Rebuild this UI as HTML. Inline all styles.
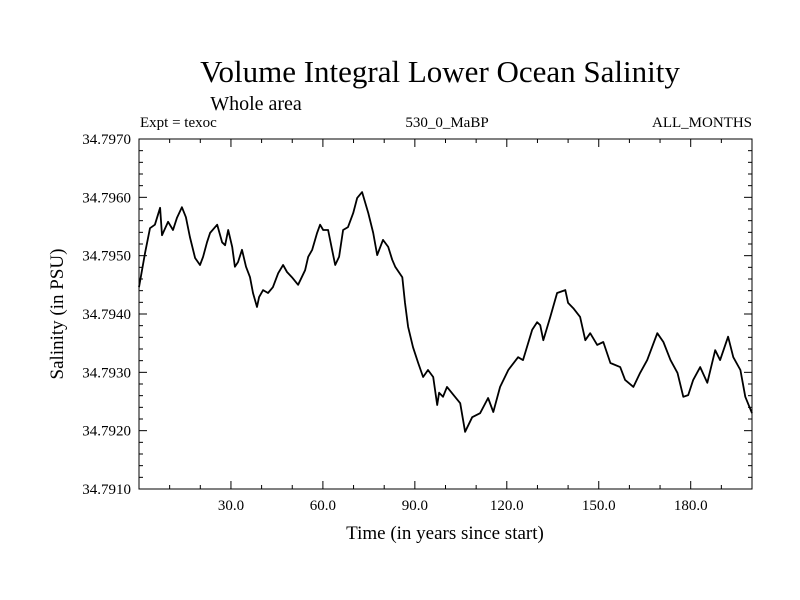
<!DOCTYPE html>
<html><head><meta charset="utf-8"><style>
html,body{margin:0;padding:0;background:#fff;}
svg{display:block;font-family:"Liberation Serif",serif;}
</style></head><body>
<svg id="chart" width="800" height="600" viewBox="0 0 800 600">
<text x="440" y="82" font-size="31" text-anchor="middle">Volume Integral Lower Ocean Salinity</text>
<text x="256" y="110" font-size="20" text-anchor="middle">Whole area</text>
<text x="140" y="127" font-size="15">Expt = texoc</text>
<text x="447" y="127" font-size="15" text-anchor="middle">530_0_MaBP</text>
<text x="752" y="127" font-size="15" text-anchor="end">ALL_MONTHS</text>
<text x="445" y="539" font-size="19" text-anchor="middle">Time (in years since start)</text>
<text x="0" y="0" font-size="19" text-anchor="middle" transform="translate(63,314) rotate(-90)">Salinity (in PSU)</text>
<g id="axes"></g>
<path id="series" fill="none" stroke="#000" stroke-width="1.8" stroke-linejoin="round"></path>
</svg>
<script>
const years = [0,2.0,3.6,5.2,6.9,7.5,9.5,11.1,12.4,14.0,15.3,16.6,18.3,19.9,20.9,22.2,23.2,25.5,27.1,28.1,29.1,30.4,31.3,32.3,33.6,34.9,36.2,37.2,38.5,39.2,40.5,42.1,43.7,45.4,47.0,48.3,49.9,51.9,54.2,55.2,56.5,58.1,59.1,60.1,61.7,63.0,64.0,65.3,66.6,68.2,69.9,71.2,72.8,74.8,76.4,77.7,79.6,81.3,82.6,83.6,85.9,86.8,87.8,89.4,91.1,92.7,94.3,96.0,97.3,97.9,99.2,100.5,103.1,104.8,106.4,108.7,111.3,113.9,115.6,117.8,120.5,123.7,125.3,128.3,129.9,130.9,131.9,134.2,136.4,139.1,140.0,141.7,143.9,145.6,147.2,149.5,151.5,153.8,157.0,158.6,161.3,163.5,165.8,169.1,171.1,173.4,175.7,177.6,179.2,180.8,183.1,185.4,188.0,189.6,192.2,193.9,196.2,197.8,200];
const salinity = [34.79446,34.79505,34.79547,34.79553,34.79582,34.79535,34.79558,34.79544,34.79565,34.79583,34.79566,34.79532,34.79496,34.79484,34.79498,34.79523,34.79539,34.79553,34.79523,34.79518,34.79544,34.79515,34.79481,34.79489,34.79510,34.79481,34.79463,34.79436,34.79412,34.79429,34.79441,34.79436,34.79446,34.79470,34.79484,34.79472,34.79463,34.79450,34.79475,34.79498,34.79510,34.79539,34.79553,34.79544,34.79544,34.79510,34.79484,34.79498,34.79544,34.79549,34.79573,34.79599,34.79609,34.79573,34.79539,34.79501,34.79527,34.79515,34.79493,34.79481,34.79463,34.79419,34.79378,34.79343,34.79316,34.79292,34.79304,34.79292,34.79244,34.79265,34.79258,34.79275,34.79258,34.79247,34.79198,34.79223,34.79230,34.79256,34.79232,34.79275,34.79304,34.79326,34.79321,34.79373,34.79386,34.79381,34.79355,34.79395,34.79436,34.79441,34.79419,34.79410,34.79395,34.79355,34.79367,34.79347,34.79352,34.79316,34.79309,34.79287,34.79275,34.79299,34.79321,34.79367,34.79352,34.79321,34.79299,34.79258,34.79261,34.79287,34.79309,34.79282,34.79338,34.79321,34.79361,34.79326,34.79304,34.79258,34.79230];
const xTickValues = [30,60,90,120,150,180];
const xTickLabels = ["30.0","60.0","90.0","120.0","150.0","180.0"];
const yTickValues = [34.791,34.792,34.793,34.794,34.795,34.796,34.797];
const yTickLabels = ["34.7910","34.7920","34.7930","34.7940","34.7950","34.7960","34.7970"];

const L=139, R=752, T=139, B=489;
const xMin=0, xMax=200, yMin=34.791, yMax=34.797;
const sx = v => L + (v-xMin)/(xMax-xMin)*(R-L);
const sy = v => B - (v-yMin)/(yMax-yMin)*(B-T);
const NS="http://www.w3.org/2000/svg";
const axes=document.getElementById('axes');
function line(x1,y1,x2,y2,name){
  const l=document.createElementNS(NS,'line');
  l.setAttribute('x1',x1);l.setAttribute('y1',y1);l.setAttribute('x2',x2);l.setAttribute('y2',y2);
  l.setAttribute('stroke','#000');l.setAttribute('stroke-width','1');
  
  
  axes.appendChild(l);
}
function text(x,y,s,anchor,name){
  const t=document.createElementNS(NS,'text');
  t.setAttribute('x',x);t.setAttribute('y',y);t.setAttribute('font-size','15');t.setAttribute('text-anchor',anchor);
  t.textContent=s;
  
  
  axes.appendChild(t);
}
const frame=document.createElementNS(NS,'rect');
frame.setAttribute('x',L);frame.setAttribute('y',T);frame.setAttribute('width',R-L);frame.setAttribute('height',B-T);
frame.setAttribute('fill','none');frame.setAttribute('stroke','#000');frame.setAttribute('stroke-width','1');


axes.appendChild(frame);
// x ticks every 10 years (minor), major every 30
for(let v=10; v<xMax; v+=10){
  const x=sx(v), len=(v%30===0)?8:4;
  line(x,B,x,B-len,'x-tick');
  line(x,T,x,T+len,'x-tick-top');
}
xTickValues.forEach((v,i)=>text(sx(v),510,xTickLabels[i],'middle','x-tick-label'));
// y ticks every 0.0002 minor, 0.001 major
for(let k=1;k<30;k++){
  const v=yMin+k*0.0002, y=sy(v), len=(k%5===0)?8:4;
  line(L,y,L+len,y,'y-tick');
  line(R,y,R-len,y,'y-tick-right');
}
yTickValues.forEach((v,i)=>text(131,sy(v)+5,yTickLabels[i],'end','y-tick-label'));
let d='';
years.forEach((t,i)=>{d+=(i?'L':'M')+sx(t).toFixed(1)+' '+sy(salinity[i]).toFixed(1);});
document.getElementById('series').setAttribute('d',d);
</script>
</body></html>
